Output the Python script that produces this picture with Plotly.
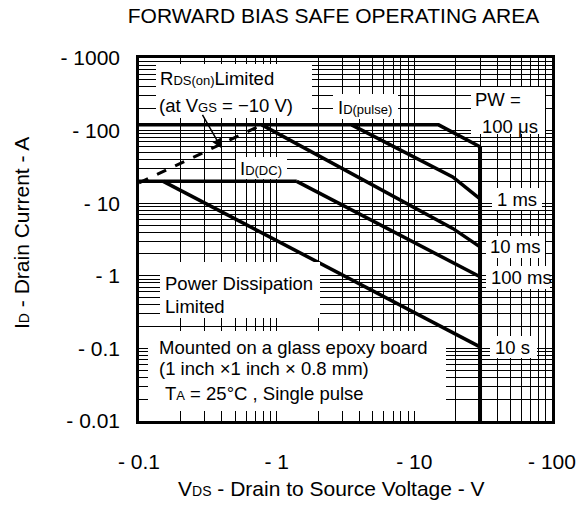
import plotly.graph_objects as go

# ---------------- data ----------------
vds_pw_100us = [0.1, 15, 30]          # I_D(pulse) plateau then 100 us limit
id_pw_100us = [120, 120, 60]
vds_pw_1ms = [3.5, 19, 30]
id_pw_1ms = [120, 23, 11.5]
vds_pw_10ms = [0.78, 19, 30]
id_pw_10ms = [120, 4.5, 2.5]
vds_dc = [0.1, 1.4]                    # I_D(DC) plateau
id_dc = [20, 20]
vds_pw_100ms = [1.4, 30]
id_pw_100ms = [20, 0.97]
vds_pw_10s = [0.15, 30]
id_pw_10s = [20, 0.105]
vds_rds_on = [0.1, 0.78]               # R_DS(on) limited (dashed)
id_rds_on = [19, 120]
vds_vdss = [30, 30]                    # V_DSS limit
id_vdss = [60, 0.01]

x_tick_vals = [0.1, 1, 10, 100]
x_tick_text = ["- 0.1", "- 1", "- 10", "- 100"]
y_tick_vals = [0.01, 0.1, 1, 10, 100, 1000]
y_tick_text = ["- 0.01", "- 0.1", "- 1", "- 10", "- 100", "- 1000"]
x_minor = [m * d for d in (0.1, 1, 10) for m in range(2, 10)]
y_minor = [m * d for d in (0.01, 0.1, 1, 10, 100) for m in range(2, 10)]

# ---------------- layout geometry ----------------
W, H = 579, 506
ML, MR, MT, MB = 139, 27, 58, 85
PW, PH = W - ML - MR, H - MT - MB


def px(x):
    return (x - ML) / PW


def py(y):
    return (H - MB - y) / PH


FONT = "Liberation Sans, Arial, sans-serif"
SMALL = '<span style="font-size:13px">{}</span>'

fig = go.Figure()
line = dict(color="black", width=3.5)
for xs, ys in [(vds_pw_100us, id_pw_100us), (vds_pw_1ms, id_pw_1ms),
               (vds_pw_10ms, id_pw_10ms), (vds_dc, id_dc),
               (vds_pw_100ms, id_pw_100ms), (vds_pw_10s, id_pw_10s)]:
    fig.add_trace(go.Scatter(x=xs, y=ys, mode="lines", line=line,
                             showlegend=False, hoverinfo="skip"))
fig.add_trace(go.Scatter(x=vds_rds_on, y=id_rds_on, mode="lines",
                         line=dict(color="black", width=3, dash="10px,10px"),
                         showlegend=False, hoverinfo="skip"))
fig.add_trace(go.Scatter(x=vds_vdss, y=id_vdss, mode="lines",
                         line=dict(color="black", width=4),
                         showlegend=False, hoverinfo="skip"))

# white boxes hiding the grid behind the labels (x0, x1, y0, y1 in px)
boxes = [(156, 312, 64, 118), (333, 398, 94, 119), (471, 545, 87, 134),
         (492, 542, 188, 210), (486, 545, 236, 258), (486, 550, 266, 289),
         (490, 537, 336, 358), (236, 287, 157, 179), (160, 320, 262, 318),
         (148, 446, 331, 411)]
for x0, x1, y0, y1 in boxes:
    fig.add_shape(type="rect", xref="paper", yref="paper",
                  x0=px(x0), x1=px(x1), y0=py(y1), y1=py(y0),
                  fillcolor="white", line_width=0, layer="above")

labels = [
    ("R" + SMALL.format("DS(on)") + "Limited", 158, 78),
    ("(at V" + SMALL.format("GS") + " = \u221210 V)", 157, 105),
    ("I" + SMALL.format("D(pulse)"), 336, 107),
    ("PW =", 473, 100),
    ("100 \u03bcs", 480, 126.5),
    ("1 ms", 495, 199),
    ("10 ms", 488, 246.5),
    ("100 ms", 489, 277),
    ("10 s", 493, 347),
    ("I" + SMALL.format("D(DC)"), 238, 168),
    ("Power Dissipation", 163, 283.5),
    ("Limited", 163, 306.5),
    ("Mounted on a glass epoxy board", 157, 347),
    ("(1 inch \u00d71 inch \u00d7 0.8 mm)", 157, 368.5),
    ("T" + SMALL.format("A") + " = 25\u00b0C , Single pulse", 163, 393),
]
for text, x, y in labels:
    fig.add_annotation(text=text, xref="paper", yref="paper", x=px(x), y=py(y),
                       xanchor="left", yanchor="middle", showarrow=False,
                       font=dict(size=18.5, color="black", family=FONT))

# axis titles (placed like the reference, slightly off-centre)
AX_FONT = dict(size=21, color="black", family=FONT)
fig.add_annotation(text="V" + '<span style="font-size:14px">DS</span>'
                   + " - Drain to Source Voltage - V",
                   xref="paper", yref="paper", x=px(331), y=py(488),
                   xanchor="center", yanchor="middle", showarrow=False,
                   font=AX_FONT)
fig.add_annotation(text="I" + '<span style="font-size:14px">D</span>'
                   + " - Drain Current - A",
                   xref="paper", yref="paper", x=px(21), y=py(233),
                   xanchor="center", yanchor="middle", showarrow=False,
                   textangle=-90, font=AX_FONT)

# arrow from the R_DS(on) label to the dashed line
fig.add_annotation(text="", x=-0.4, y=1.756, xref="x", yref="y",
                   ax=-20, ay=-35, showarrow=True, arrowhead=2,
                   arrowsize=1.3, arrowwidth=1.5, arrowcolor="black", standoff=0)

axis_common = dict(type="log", showgrid=True, gridcolor="black", gridwidth=1,
                   showline=True, linecolor="black", linewidth=2.5, mirror=True,
                   ticks="", zeroline=False, tickmode="array", automargin=False,
                   tickfont=dict(size=21, color="black", family=FONT))
fig.update_layout(
    width=W, height=H,
    margin=dict(l=ML, r=MR, t=MT, b=MB, autoexpand=False),
    paper_bgcolor="white", plot_bgcolor="white",
    font=dict(family=FONT, color="black"),
    title=dict(text="FORWARD BIAS SAFE OPERATING AREA", x=333.5 / W,
               xref="container", y=1 - 16 / H, yref="container",
               xanchor="center", yanchor="middle",
               font=dict(size=21, color="black", family=FONT)),
    xaxis=dict(axis_common, range=[-1, 2], tickvals=x_tick_vals,
               ticktext=x_tick_text, ticklabelstandoff=20,
               minor=dict(tickmode="array", tickvals=x_minor, showgrid=True,
                          gridcolor="black", gridwidth=1)),
    yaxis=dict(axis_common, range=[-2, 3], tickvals=y_tick_vals,
               ticktext=y_tick_text, ticklabelstandoff=12,
               minor=dict(tickmode="array", tickvals=y_minor, showgrid=True,
                          gridcolor="black", gridwidth=1)),
)

fig.write_html("out.html", config={"displayModeBar": False},
               post_script="document.body.style.margin='0';"
                           "document.body.style.overflow='hidden';")
